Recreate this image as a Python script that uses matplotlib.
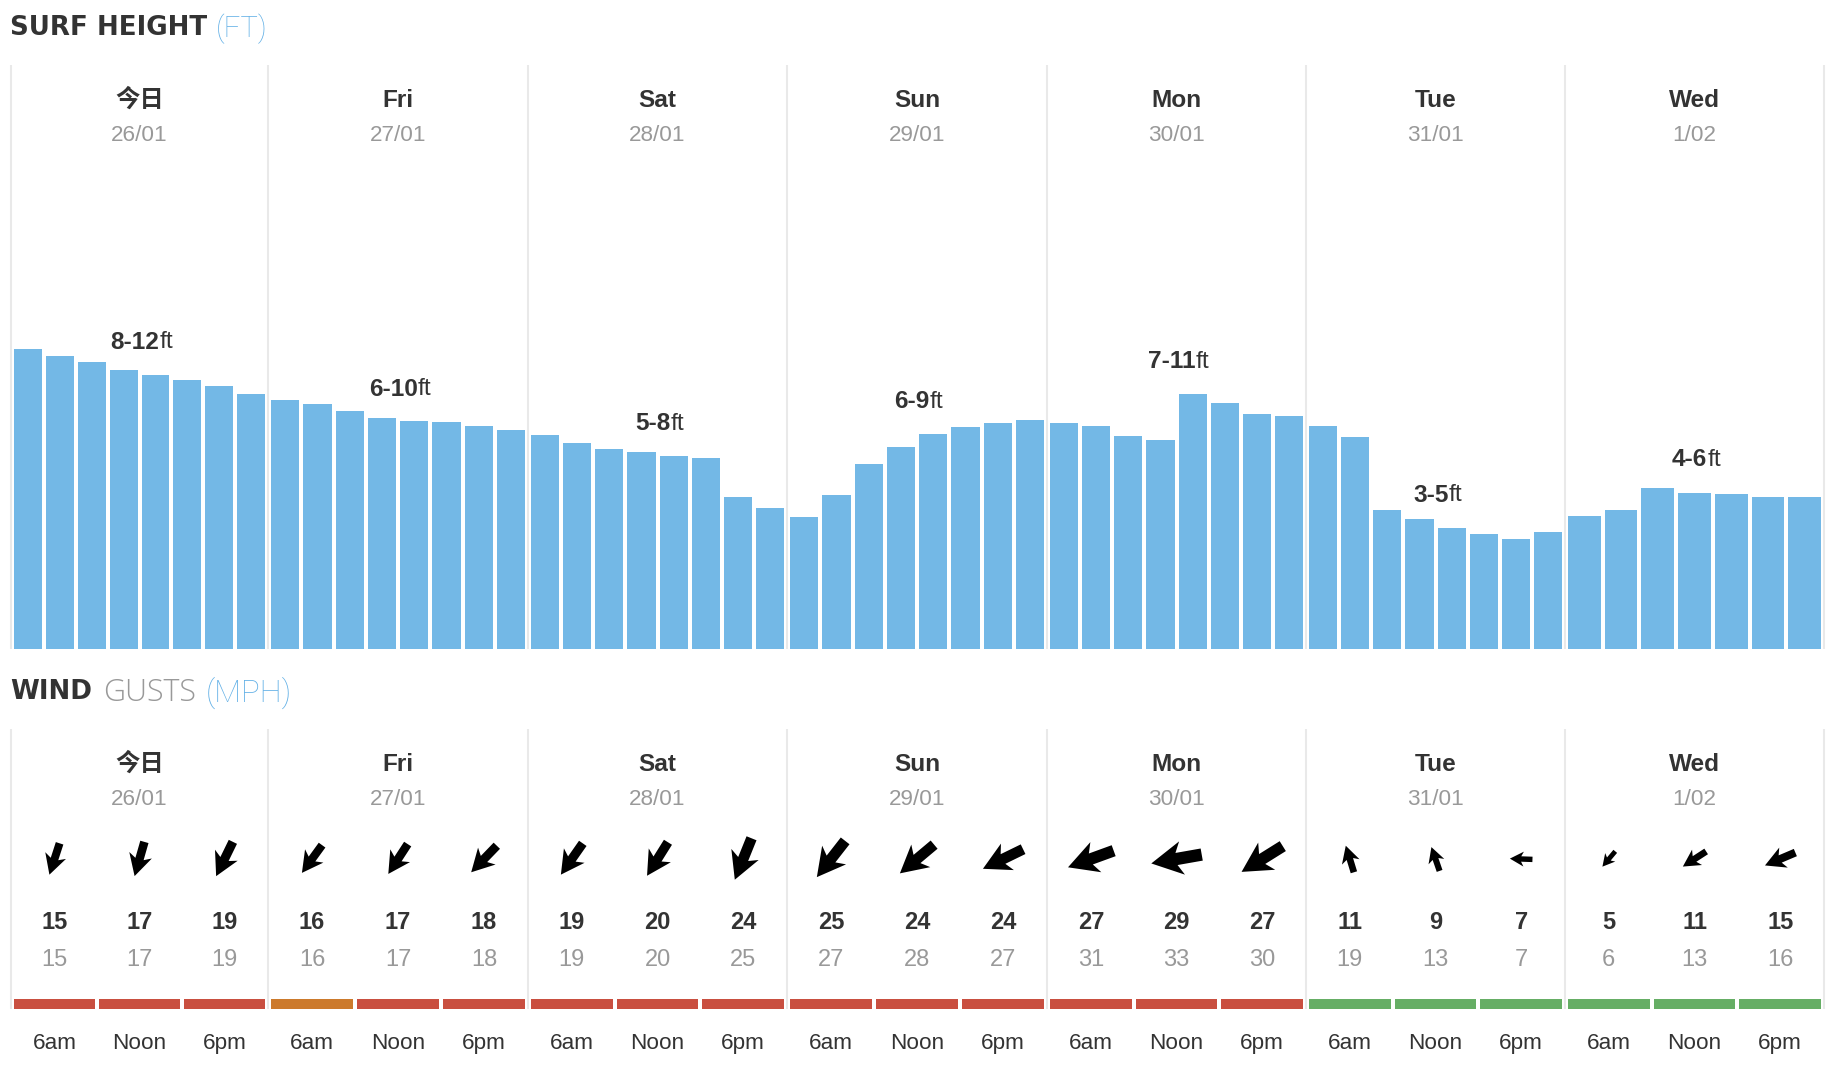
#!/usr/bin/env python3
"""Surf height and wind forecast panels, 7 days."""
import numpy as np
import matplotlib
matplotlib.use("Agg")
import matplotlib.pyplot as plt
from matplotlib.patches import PathPatch
from matplotlib.path import Path
from matplotlib.transforms import Affine2D

plt.rcParams["font.family"] = ["Liberation Sans", "Noto Sans CJK SC", "DejaVu Sans"]

day_names = ["今日", "Fri", "Sat", "Sun", "Mon", "Tue", "Wed"]
day_dates = ["26/01", "27/01", "28/01", "29/01", "30/01", "31/01", "1/02"]
surf_ranges = [("8-12", "ft"), ("6-10", "ft"), ("5-8", "ft"), ("6-9", "ft"),
               ("7-11", "ft"), ("3-5", "ft"), ("4-6", "ft")]

# bar heights
surf_height = [
    [12.00, 11.72, 11.48, 11.16, 10.96, 10.76, 10.52, 10.20],
    [9.96, 9.80, 9.52, 9.24, 9.12, 9.08, 8.92, 8.76],
    [8.56, 8.24, 8.00, 7.88, 7.72, 7.64, 6.08, 5.64],
    [5.28, 6.16, 7.40, 8.08, 8.60, 8.88, 9.04, 9.16],
    [9.04, 8.92, 8.52, 8.36, 10.20, 9.84, 9.40, 9.32],
    [8.92, 8.48, 5.56, 5.20, 4.84, 4.60, 4.40, 4.68],
    [5.32, 5.56, 6.44, 6.24, 6.20, 6.08, 6.08],
]
wind_speed = [15, 17, 19, 16, 17, 18, 19, 20, 24, 25, 24, 24, 27, 29, 27, 11, 9, 7, 5, 11, 15]
wind_gust = [15, 17, 19, 16, 17, 18, 19, 20, 25, 27, 28, 27, 31, 33, 30, 19, 13, 7, 6, 13, 16]
# arrow heading, degrees clockwise from straight down
wind_dir = [18, 16, 26, 36, 33, 44, 35, 32, 22, 38, 50, 64, 70, 80, 58, 163, 161, 92, 40, 57, 67]
wind_rating = ["bad", "bad", "bad", "ok", "bad", "bad", "bad", "bad", "bad", "bad", "bad",
               "bad", "bad", "bad", "bad", "good", "good", "good", "good", "good", "good"]
time_labels = ["6am", "Noon", "6pm"]

BLUE = "#73b8e6"
DARK = "#333333"
GREY = "#999999"
LINE = "#e9e9e9"
RATING_COL = {"bad": "#c94f40", "ok": "#cc7a2c", "good": "#66ae65"}

W, H = 1832, 1080
SURF_BASE, SURF_TOP = 649, 65
WIND_TOP, WIND_BASE = 729, 1009
PX_PER_FT = 25.0
GAP = 4
day_left = [11, 268, 528, 787, 1047, 1306, 1565, 1824]
range_y = [340, 386.5, 421.5, 399.5, 359.5, 492.5, 457.5]

fig = plt.figure(figsize=(W / 100, H / 100), dpi=100, facecolor="white")
# page axes are in pixels, y down, for the layout
ax = fig.add_axes([0, 0, 1, 1])
ax.set_xlim(0, W); ax.set_ylim(H, 0); ax.axis("off")
surf_ax = fig.add_axes([0, 1 - SURF_BASE / H, 1, (SURF_BASE - SURF_TOP) / H])
surf_ax.set_xlim(0, W); surf_ax.set_ylim(0, (SURF_BASE - SURF_TOP) / PX_PER_FT)
surf_ax.axis("off"); surf_ax.patch.set_alpha(0)

renderer = fig.canvas.get_renderer()

def text_run(x, y, parts, center=False):
    """Lay out (string, gap-after, style) pieces one after the other on one baseline."""
    arts, cur = [], x
    for s, gap, kw in parts:
        t = ax.text(cur, y, s, va="center_baseline", ha="left", **kw)
        cur += t.get_window_extent(renderer).width + gap
        arts.append(t)
    if center:
        shift = (cur - gap - x) / 2
        for t in arts:
            t.set_x(t.get_position()[0] - shift)

def wind_arrow(cx, cy, speed, heading):
    length = 13.5 + 1.3 * speed
    # tip at origin, tail along +y, unit length
    pts = [(0, 0), (.33, .61), (.12, .5), (.12, 1), (-.12, 1), (-.12, .5), (-.33, .61), (0, 0)]
    codes = [Path.MOVETO] + [Path.LINETO] * 6 + [Path.CLOSEPOLY]
    tr = (Affine2D().translate(0, -0.5).scale(length).scale(1, -1)
          .rotate_deg(heading).translate(cx, cy))
    ax.add_patch(PathPatch(Path(pts, codes).transformed(tr), fc="black", ec="none", zorder=3))

title_bold = dict(family="DejaVu Sans", fontsize=18.8, fontweight="bold", color=DARK)
title_blue = dict(family="Roboto", fontsize=21, fontweight="light", color="#62b0e6")
wind_blue = dict(title_blue, fontsize=22.5)
title_grey = dict(family="Open Sans", fontsize=22, fontweight="light", color=GREY)
text_run(10, 25, [("SURF HEIGHT", 9, title_bold), ("(FT)", 0, title_blue)])
text_run(10.5, 689, [("WIND", 11, title_bold), ("GUSTS", 9, title_grey), ("(MPH)", 0, wind_blue)])

ax.vlines(day_left, SURF_TOP, SURF_BASE, color=LINE, lw=1.5, zorder=1)
ax.vlines(day_left, WIND_TOP, WIND_BASE, color=LINE, lw=1.5, zorder=1)

for d, name in enumerate(day_names):
    left = day_left[d]
    mid = (left + day_left[d + 1]) / 2
    span = day_left[d + 1] - left - 6 + GAP
    for y0, dy in ((98, 35), (762, 35)):
        ax.text(mid, y0, name, ha="center", va="center_baseline", fontsize=17.6, fontweight="bold", color=DARK)
        ax.text(mid, y0 + dy, day_dates[d], ha="center", va="center_baseline", fontsize=16.2, color=GREY)

    heights = surf_height[d]
    step = span / len(heights)
    xs = left + 3 + step * np.arange(len(heights))
    surf_ax.bar(xs, heights, width=step - GAP, align="edge", color=BLUE, lw=0, zorder=2)

    a, b = surf_ranges[d]
    text_run(mid + 2, range_y[d], [
        (a, 0, dict(fontsize=17.6, fontweight="bold", color=DARK)),
        (b, 0, dict(fontsize=17.6, color=DARK)),
    ], center=True)

    wstep = span / len(time_labels)
    for j, tl in enumerate(time_labels):
        k = d * 3 + j
        cx = left + 3 + (wstep - GAP) / 2 + wstep * j
        wind_arrow(cx, 859, wind_speed[k], wind_dir[k])
        ax.text(cx, 920, str(wind_speed[k]), ha="center", va="center_baseline", fontsize=17, fontweight="bold", color=DARK)
        ax.text(cx, 957, str(wind_gust[k]), ha="center", va="center_baseline", fontsize=17, color=GREY)
        ax.bar(cx, 10, width=wstep - GAP, bottom=999, color=RATING_COL[wind_rating[k]], lw=0, zorder=2)
        ax.text(cx, 1041, tl, ha="center", va="center_baseline", fontsize=16.2, color=DARK)

fig.savefig("out.png", dpi=100)
